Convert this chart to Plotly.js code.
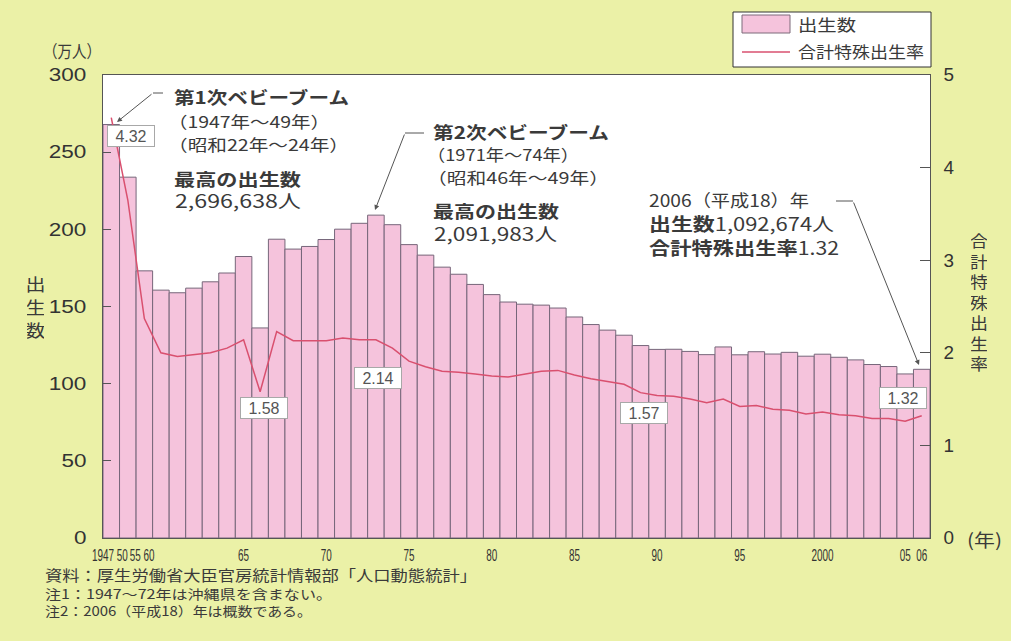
<!DOCTYPE html>
<html>
<head>
<meta charset="utf-8">
<script src="https://cdn.plot.ly/plotly-3.0.1.min.js"></script>
<style>html,body{margin:0;padding:0;background:#ebf1a7;}</style>
</head>
<body>
<div id="chart" style="width:1011px;height:641px;"></div>
<script>
// ---- data ----
const years = ['1947','1950','1955','1960','1961','1962','1963','1964','1965','1966','1967','1968','1969',
  '1970','1971','1972','1973','1974','1975','1976','1977','1978','1979','1980','1981','1982','1983','1984',
  '1985','1986','1987','1988','1989','1990','1991','1992','1993','1994','1995','1996','1997','1998','1999',
  '2000','2001','2002','2003','2004','2005','2006'];
// 出生数 (万人)
const births = [267.9,233.8,173.1,160.6,158.9,161.9,166.0,171.7,182.4,136.1,193.6,187.2,188.9,
  193.4,200.1,203.9,209.2,203.0,190.1,183.3,175.5,170.9,164.3,157.7,152.9,151.5,150.9,149.0,
  143.2,138.3,134.7,131.4,124.7,122.2,122.3,120.9,118.8,123.8,118.7,120.7,119.2,120.3,117.8,
  119.1,117.1,115.4,112.4,111.1,106.3,109.3];
// 合計特殊出生率
const tfr = [4.54,3.65,2.37,2.00,1.96,1.98,2.00,2.05,2.14,1.58,2.23,2.13,2.13,
  2.13,2.16,2.14,2.14,2.05,1.91,1.85,1.80,1.79,1.77,1.75,1.74,1.77,1.80,1.81,
  1.76,1.72,1.69,1.66,1.57,1.54,1.53,1.50,1.46,1.50,1.42,1.43,1.39,1.38,1.34,
  1.36,1.33,1.32,1.29,1.29,1.26,1.32];
const tickLabels = ['1947','50','55','60','65','70','75','80','85','90','95','2000','05','06'];
const tickYears  = ['1947','1950','1955','1960','1965','1970','1975','1980','1985','1990','1995','2000','2005','2006'];
const tickShift  = [-0.5,-0.33,-0.55,-0.72,0,0,0,0,0,0,0,0,0,0]; // crowded early labels pulled left
const valueLabels = [{year:'1947', text:'4.32'},{year:'1966',text:'1.58'},{year:'1973',text:'2.14'},
  {year:'1989',text:'1.57'},{year:'2006',text:'1.32'}];

const xs = years.map((_, i) => i);
const tickVals = tickYears.map((y, k) => years.indexOf(y) + tickShift[k]);

// ---- geometry helpers (pixel -> paper) ----
const L = 103, R = 930, T = 75, B = 538;
const PX = p => (p - L) / (R - L);
const PY = p => (B - p) / (B - T);
const FONT = '"Noto Sans CJK JP", "Noto Sans", sans-serif';
const NUMFONT = '"Liberation Sans", Arial, sans-serif';
const TXT = '#3a3a3a';

const annotations = [];
const fits = [];   // [annotation index, target width in px]
function txt(text, x, y, size, width, opts) {
  annotations.push(Object.assign({
    text: text, xref: 'paper', yref: 'paper', x: PX(x), y: PY(y),
    xanchor: 'left', yanchor: 'middle', align: 'left', showarrow: false, borderpad: 0,
    font: {family: FONT, size: size, color: TXT}
  }, opts || {}));
  if (width) fits.push([annotations.length - 1, width]);
}
function vtext(str, x, y0, step, size, width) {
  [...str].forEach((c, i) => txt(c, x, y0 + i * step, size, width, {xanchor: 'center', align: 'center', height: step - 1}));
}
function arrow(hx, hy, tx, ty) {
  annotations.push({text: '', xref: 'paper', yref: 'paper', x: PX(hx), y: PY(hy),
    ax: tx - hx, ay: ty - hy, showarrow: true, arrowhead: 2, arrowsize: 1, arrowwidth: 1,
    arrowcolor: '#555', standoff: 0, startstandoff: 0});
}

// axis unit text
txt('（万人）', 42, 51, 17, 58);
txt('(年)', 966, 539, 18, 35);
vtext('出生数', 35, 283, 23, 17, 20);
vtext('合計特殊出生率', 979, 240, 20.5, 16, 18);

// block 1
txt('<b>第1次ベビーブーム</b>', 173, 97, 17, 175);
txt('（1947年〜49年）', 167, 121, 16, 162);
txt('（昭和22年〜24年）', 167, 144, 16, 181);
txt('<b>最高の出生数</b>', 173, 178, 17, 127);
txt('2,696,638人', 174, 200, 18, 126);
// block 2
txt('<b>第2次ベビーブーム</b>', 432, 131, 17, 176);
txt('（1971年〜74年）', 426, 154, 16, 152);
txt('（昭和46年〜49年）', 426, 177, 16, 182);
txt('<b>最高の出生数</b>', 432, 210, 17, 126);
txt('2,091,983人', 433, 233, 18, 123);
// block 3
txt('2006（平成18）年', 648, 199, 17, 160);
txt('<b>出生数</b>1,092,674人', 648, 223, 18, 185);
txt('<b>合計特殊出生率</b>1.32', 648, 247, 18, 190);

// footer
txt('資料：厚生労働省大臣官房統計情報部「人口動態統計」', 44, 574, 15, 432);
txt('注1：1947〜72年は沖縄県を含まない。', 44, 593, 13, 287);
txt('注2：2006（平成18）年は概数である。', 44, 610, 13, 267);

// arrows
arrow(117, 122, 153, 93);
arrow(375, 210, 405, 133);
arrow(919, 365, 853, 201);

// value boxes on the line
const boxPos = {'1947': [131, 136], '1966': [264, 408], '1973': [378, 378], '1989': [644, 413], '2006': [903, 398]};
valueLabels.forEach(v => {
  const p = boxPos[v.year];
  annotations.push({text: v.text, xref: 'paper', yref: 'paper', x: PX(p[0]), y: PY(p[1]),
    xanchor: 'center', yanchor: 'middle', showarrow: false, bgcolor: '#ffffff',
    bordercolor: '#a8a8a8', borderwidth: 1, borderpad: 1, width: 44, height: 18,
    font: {family: NUMFONT, size: 16, color: '#555'}});
});

// legend (drawn)
txt('出生数', 797, 24, 16, 58);
txt('合計特殊出生率', 797, 51, 16, 126);

const shapes = [
  {type: 'line', xref: 'paper', yref: 'paper', x0: PX(153), x1: PX(163), y0: PY(93), y1: PY(93), line: {color: '#555', width: 1}},
  {type: 'line', xref: 'paper', yref: 'paper', x0: PX(405), x1: PX(424), y0: PY(133), y1: PY(133), line: {color: '#555', width: 1}},
  {type: 'line', xref: 'paper', yref: 'paper', x0: PX(836), x1: PX(853), y0: PY(201), y1: PY(201), line: {color: '#555', width: 1}},
  {type: 'rect', xref: 'paper', yref: 'paper', x0: PX(733), x1: PX(931), y0: PY(12), y1: PY(67), fillcolor: '#ffffff', line: {color: '#333', width: 1}, layer: 'below'},
  {type: 'rect', xref: 'paper', yref: 'paper', x0: PX(742), x1: PX(790), y0: PY(15), y1: PY(33), fillcolor: '#f5c3dc', line: {color: '#7d6a7a', width: 1}},
  {type: 'line', xref: 'paper', yref: 'paper', x0: PX(742), x1: PX(790), y0: PY(52), y1: PY(52), line: {color: '#d9506f', width: 1.3}}
];

const traces = [
  {type: 'bar', x: xs, y: births, name: '出生数', width: 1,
   marker: {color: '#f5c3dc', line: {color: '#76667a', width: 1}}, hoverinfo: 'skip'},
  {type: 'scatter', mode: 'lines', x: xs, y: tfr, yaxis: 'y2', name: '合計特殊出生率',
   line: {color: '#d9506f', width: 1.5}, hoverinfo: 'skip'}
];

const layout = {
  width: 1011, height: 641,
  margin: {l: L, r: 1011 - R, t: T, b: 641 - B, pad: 0},
  paper_bgcolor: '#ebf1a7', plot_bgcolor: '#ffffff',
  showlegend: false, bargap: 0,
  font: {family: FONT, color: '#333'},
  xaxis: {range: [-0.5, 49.5], tickmode: 'array', tickvals: tickVals, ticktext: tickLabels,
    showgrid: false, zeroline: false, showline: true, linecolor: '#555', linewidth: 1, mirror: true,
    ticks: '', tickangle: 0, ticklabelstandoff: 3,
    tickfont: {family: NUMFONT, size: 16, color: '#333'}},
  yaxis: {range: [0, 300], dtick: 50, showgrid: false, zeroline: false, showline: true,
    linecolor: '#555', linewidth: 1, ticks: 'inside', ticklen: 8, tickcolor: '#555',
    ticklabelstandoff: 12,
    tickfont: {family: NUMFONT, size: 18, color: '#333'}},
  yaxis2: {range: [0, 5], dtick: 1, overlaying: 'y', side: 'right', showgrid: false, zeroline: false,
    showline: true, linecolor: '#555', linewidth: 1, ticks: 'inside', ticklen: 10, tickcolor: '#555',
    ticklabelstandoff: 9,
    tickfont: {family: NUMFONT, size: 18, color: '#333'}},
  annotations: annotations,
  shapes: shapes
};

function stretchTicks(sel, factor) {
  document.querySelectorAll(sel).forEach(t => {
    const w = t.getComputedTextLength();
    t.setAttribute('textLength', (w * factor).toFixed(1));
    t.setAttribute('lengthAdjust', 'spacingAndGlyphs');
  });
}

Plotly.newPlot('chart', traces, layout, {displayModeBar: false, staticPlot: true}).then(() => {
  fits.forEach(([i, w]) => {
    const t = document.querySelector('.annotation[data-index="' + i + '"] text.annotation-text');
    if (t) { t.setAttribute('textLength', w); t.setAttribute('lengthAdjust', 'spacingAndGlyphs'); }
  });
  stretchTicks('.xtick text', 0.62);
  stretchTicks('.ytick text', 1.25);
  stretchTicks('.y2tick text', 1.05);
});
</script>
</body>
</html>
